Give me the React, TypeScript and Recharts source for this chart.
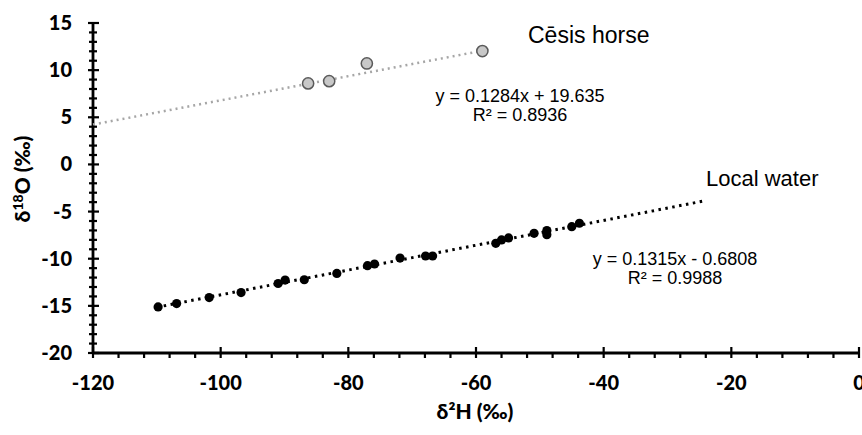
import React from 'react';
import { ScatterChart, Scatter, XAxis, YAxis } from 'recharts';

// Local water samples (δ2H, δ18O)
const waterH = [-109.8, -106.9, -101.8, -96.8, -91.0, -89.9, -86.9, -81.8, -77.0, -75.9, -71.9, -67.9, -66.8, -56.9, -56.0, -54.9, -50.9, -48.9, -48.9, -45.0, -43.8];
const waterO = [-15.11, -14.76, -14.12, -13.59, -12.63, -12.27, -12.23, -11.56, -10.74, -10.56, -9.93, -9.71, -9.71, -8.37, -8.01, -7.8, -7.31, -7.02, -7.45, -6.6, -6.24];

// Cēsis horse samples
const horseH = [-86.3, -83.0, -77.1, -59.0];
const horseO = [8.59, 8.83, 10.71, 12.02];

// Trendlines: [slope, intercept] and x-range drawn
const waterFit = [0.1315, -0.6808];
const waterFitRange = [-110, -24];
const horseFit = [0.1284, 19.635];
const horseFitRange = [-120, -59];

const xMajorTicks = [-120, -100, -80, -60, -40, -20, 0];
const yMajorTicks = [-20, -15, -10, -5, 0, 5, 10, 15];

const xAllTicks: number[] = [];
for (let v = -120; v <= 0; v += 4) xAllTicks.push(v);
const yAllTicks: number[] = [];
for (let v = -20; v <= 15; v += 1) yAllTicks.push(v);

const waterData = waterH.map((x, i) => ({ x, y: waterO[i] }));
const horseData = horseH.map((x, i) => ({ x, y: horseO[i] }));
const waterLine = waterFitRange.map((x) => ({ x, y: waterFit[0] * x + waterFit[1] }));
const horseLine = horseFitRange.map((x) => ({ x, y: horseFit[0] * x + horseFit[1] }));

const tickFont = 'Lato, "Open Sans", sans-serif';
const annFont = '"Liberation Sans", Arial, sans-serif';

const XTick = (props: any) => {
  const { x, y, payload } = props;
  const v = payload.value;
  const major = xMajorTicks.includes(v);
  return (
    <g>
      <line x1={x} x2={x} y1={major ? y - 6 : y} y2={y + 5} stroke="#000" strokeWidth={2.2} />
      {major && (
        <text x={x} y={y + 37} textAnchor="middle" fontFamily={tickFont} fontWeight={900} fontSize={20} fill="#000">
          {String(v)}
        </text>
      )}
    </g>
  );
};

const YTick = (props: any) => {
  const { x, y, payload } = props;
  const v = payload.value;
  const major = yMajorTicks.includes(v);
  return (
    <g>
      <line x1={major ? x - 5 : x - 4} x2={major ? x + 6 : x + 4} y1={y} y2={y} stroke="#000" strokeWidth={2.2} />
      {major && (
        <text x={x - 21} y={y + 7} textAnchor="end" fontFamily={tickFont} fontWeight={900} fontSize={20} fill="#000">
          {String(v)}
        </text>
      )}
    </g>
  );
};

const WaterDot = (props: any) => <circle cx={props.cx} cy={props.cy} r={4.6} fill="#000" />;
const HorseDot = (props: any) => (
  <circle cx={props.cx} cy={props.cy} r={5.6} fill="#c8c8c8" stroke="#5a5a5a" strokeWidth={1.5} />
);
const NoDot = () => <g />;

export default function App() {
  return (
    <div style={{ position: 'absolute', left: 0, top: 0, background: '#fff' }}>
      <ScatterChart width={862} height={435} margin={{ top: 23, right: 3, left: 0, bottom: 0 }}>
        <XAxis
          type="number"
          dataKey="x"
          domain={[-120, 0]}
          ticks={xAllTicks}
          interval={0}
          height={82}
          tickSize={0}
          tickMargin={0}
          tickLine={false}
          axisLine={{ stroke: '#000', strokeWidth: 2.8 }}
          tick={<XTick />}
        />
        <YAxis
          type="number"
          dataKey="y"
          domain={[-20, 15]}
          ticks={yAllTicks}
          interval={0}
          width={93}
          tickSize={0}
          tickMargin={0}
          tickLine={false}
          axisLine={{ stroke: '#000', strokeWidth: 2.8 }}
          tick={<YTick />}
        />
        <Scatter
          data={horseLine}
          line={{ stroke: '#a6a6a6', strokeWidth: 2.5, strokeDasharray: '2 4' }}
          shape={<NoDot />}
          isAnimationActive={false}
        />
        <Scatter
          data={waterLine}
          line={{ stroke: '#000', strokeWidth: 3, strokeDasharray: '2.5 4.5' }}
          shape={<NoDot />}
          isAnimationActive={false}
        />
        <Scatter data={waterData} shape={<WaterDot />} isAnimationActive={false} />
        <Scatter data={horseData} shape={<HorseDot />} isAnimationActive={false} />

        <text x={528} y={43} fontFamily={annFont} fontSize={23} fill="#000">Cēsis horse</text>
        <text x={520} y={102} textAnchor="middle" fontFamily={annFont} fontSize={18} fill="#000">y = 0.1284x + 19.635</text>
        <text x={520} y={121} textAnchor="middle" fontFamily={annFont} fontSize={18} fill="#000">R² = 0.8936</text>

        <text x={706} y={186} fontFamily={annFont} fontSize={22} fill="#000">Local water</text>
        <text x={675} y={265} textAnchor="middle" fontFamily={annFont} fontSize={18} fill="#000">y = 0.1315x - 0.6808</text>
        <text x={675} y={284} textAnchor="middle" fontFamily={annFont} fontSize={18} fill="#000">R² = 0.9988</text>

        <text x={475} y={419} textAnchor="middle" fontFamily={tickFont} fontWeight={900} fontSize={21} fill="#000">
          δ²H (‰)
        </text>
        <text
          x={30}
          y={179}
          transform="rotate(-90, 30, 179)"
          textAnchor="middle"
          fontFamily={tickFont}
          fontWeight={900}
          fontSize={21}
          fill="#000"
        >
          δ<tspan fontSize={14} dy={-7}>18</tspan>
          <tspan dy={7}>O (‰)</tspan>
        </text>
      </ScatterChart>
    </div>
  );
}
